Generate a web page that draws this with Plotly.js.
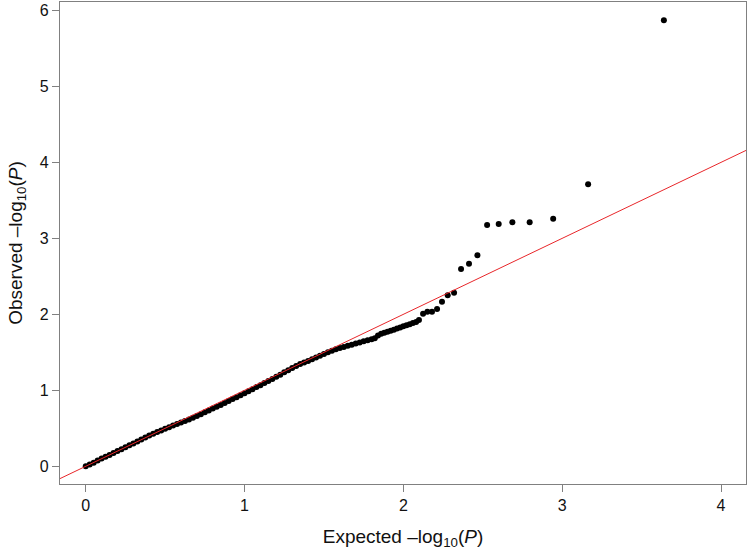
<!DOCTYPE html>
<html>
<head>
<meta charset="utf-8">
<script src="https://cdn.plot.ly/plotly-3.0.1.min.js"></script>
<style>html,body{margin:0;padding:0;background:#fff;}#chart{width:748px;height:555px;}</style>
</head>
<body>
<div id="chart"></div>
<script>
// Expected -log10(P) values
var expected = [
  0.000,0.025,0.050,0.075,0.100,0.125,0.150,0.175,0.200,0.225,
  0.250,0.275,0.300,0.325,0.350,0.375,0.400,0.425,0.450,0.475,
  0.500,0.525,0.550,0.575,0.600,0.625,0.650,0.675,0.700,0.725,
  0.750,0.775,0.800,0.825,0.850,0.875,0.900,0.925,0.950,0.975,
  1.000,1.025,1.050,1.075,1.100,1.125,1.150,1.175,1.200,1.225,
  1.250,1.275,1.300,1.325,1.350,1.375,1.400,1.425,1.450,1.475,
  1.500,1.525,1.550,1.575,1.600,1.625,1.650,1.675,1.700,1.725,
  1.750,1.775,1.800,1.820,1.840,1.860,1.880,1.900,1.920,1.940,
  1.960,1.980,2.000,2.020,2.040,2.060,2.080,2.098,2.124,2.151,
  2.180,2.212,2.243,2.279,2.319,2.363,2.413,2.466,2.527,2.600,
  2.686,2.795,2.943,3.163,3.640
];
// Observed -log10(P) values
var observed = [
  0.000,0.022,0.048,0.075,0.101,0.126,0.150,0.176,0.200,0.225,
  0.250,0.276,0.301,0.326,0.352,0.378,0.404,0.428,0.450,0.472,
  0.494,0.515,0.536,0.556,0.575,0.595,0.617,0.638,0.661,0.685,
  0.710,0.735,0.760,0.784,0.808,0.833,0.858,0.884,0.910,0.936,
  0.962,0.988,1.015,1.042,1.068,1.095,1.123,1.150,1.178,1.206,
  1.236,1.265,1.293,1.320,1.345,1.366,1.387,1.410,1.432,1.455,
  1.478,1.500,1.520,1.540,1.556,1.570,1.586,1.600,1.615,1.630,
  1.645,1.660,1.672,1.685,1.720,1.745,1.758,1.772,1.785,1.798,
  1.812,1.828,1.842,1.855,1.868,1.885,1.900,1.925,2.008,2.035,
  2.035,2.070,2.166,2.250,2.284,2.596,2.666,2.776,3.175,3.188,
  3.210,3.210,3.258,3.710,5.870
];
// Reference line y = x
var refLineX = [-0.5, 4.5];
var refLineY = [-0.5, 4.5];
var xTicks = [0, 1, 2, 3, 4];
var yTicks = [0, 1, 2, 3, 4, 5, 6];

var font = "'Liberation Sans', Arial, Helvetica, sans-serif";
var traces = [
  {x: expected, y: observed, type: 'scatter', mode: 'markers',
   marker: {color: '#000', size: 6}, hoverinfo: 'skip', showlegend: false},
  {x: refLineX, y: refLineY, type: 'scatter', mode: 'lines',
   line: {color: '#e8262a', width: 1}, hoverinfo: 'skip', showlegend: false}
];
var axisCommon = {
  showgrid: false, zeroline: false, showline: true, mirror: true,
  linecolor: '#808080', linewidth: 1.2,
  ticks: 'outside', ticklen: 7, tickwidth: 1, tickcolor: '#808080',
  tickfont: {family: font, size: 16, color: '#111'}
};
var layout = {
  width: 748, height: 555,
  margin: {l: 60, r: 2, t: 2, b: 71},
  paper_bgcolor: '#fff', plot_bgcolor: '#fff',
  font: {family: font},
  xaxis: Object.assign({}, axisCommon, {
    range: [-0.162, 4.157], tickvals: xTicks, ticktext: xTicks.map(String),
    title: {text: 'Expected \u2013log<sub>10</sub>(<i>P</i>)', font: {family: font, size: 19, color: '#111'}, standoff: 16}
  }),
  yaxis: Object.assign({}, axisCommon, {
    range: [-0.233, 6.11], tickvals: yTicks, ticktext: yTicks.map(String),
    title: {text: 'Observed \u2013log<sub>10</sub>(<i>P</i>)', font: {family: font, size: 19, color: '#111'}, standoff: 12}
  })
};
Plotly.newPlot('chart', traces, layout, {displayModeBar: false, staticPlot: true});
</script>
</body>
</html>
